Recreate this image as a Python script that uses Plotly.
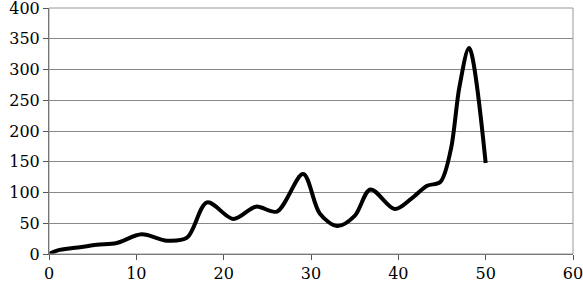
import plotly.graph_objects as go

days = [0, 1, 3, 5.5, 7.75, 10.6, 13.5, 15.8, 18.1, 21.1, 23.7, 26.1, 29.1, 31, 33, 35, 36.8, 39.6, 41.5, 43.3, 44.8, 46, 47, 48.1, 50]
values = [0, 6, 10, 15, 18, 32, 21.6, 26.5, 84, 57, 77, 69, 130, 66, 45.5, 62, 105, 73, 90, 111, 117, 169, 272, 335, 148]
x_ticks = [0, 10, 20, 30, 40, 50, 60]
y_ticks = [0, 50, 100, 150, 200, 250, 300, 350, 400]

FONT = "DejaVu Serif"

fig = go.Figure()
fig.add_trace(go.Scatter(x=days, y=values, mode="lines",
                         line=dict(color="black", width=4, shape="spline", smoothing=0.9),
                         showlegend=False))

fig.update_layout(
    width=583, height=285,
    margin=dict(l=49, r=10, t=8, b=31, autoexpand=False),
    paper_bgcolor="white", plot_bgcolor="white",
    font_family=FONT, font_size=16, font_color="black",
    xaxis=dict(range=[0, 60], tickvals=x_ticks, showgrid=False, automargin=False,
               tickfont_family=FONT, tickfont_size=16, ticklabeloverflow="allow",
               showline=True, linecolor="#555", linewidth=1, ticks="outside", ticklen=5,
               tickcolor="#555", zeroline=False),
    yaxis=dict(range=[0, 400], tickvals=y_ticks, automargin=False,
               tickfont_family=FONT, tickfont_size=16, ticklabeloverflow="allow",
               showgrid=True, gridcolor="#888", gridwidth=1,
               showline=True, linecolor="#555", linewidth=1, ticks="outside", ticklen=5,
               tickcolor="#555", zeroline=False),
    shapes=[dict(type="rect", xref="paper", yref="paper", x0=0, y0=0, x1=1, y1=1,
                 line=dict(color="#999", width=1))],
)

fig.write_html("out.html", config={"displayModeBar": False},
               post_script="document.body.style.margin='0';")
